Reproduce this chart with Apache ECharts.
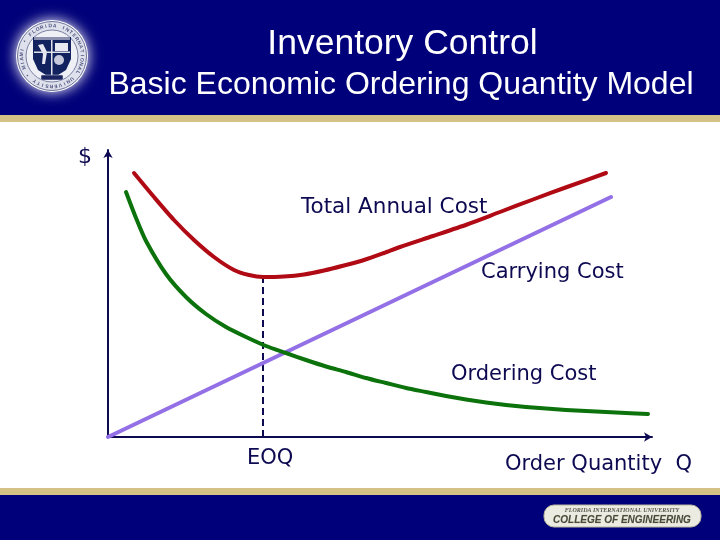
<!DOCTYPE html>
<html>
<head>
<meta charset="utf-8">
<style>html,body{margin:0;padding:0;background:#fff}#c{width:720px;height:540px}</style>
<script src="https://cdn.jsdelivr.net/npm/echarts@6/dist/echarts.min.js"></script>
</head>
<body>
<div id="c"></div>
<script>
// Values: [quantity, dollars], in arbitrary chart units
var totalCost = [[26,264],[46,240],[66,217],[86,197],[106,180],[126,167],[141,162],[155,160],[176,160.5],[196,162.5],[216,166.5],[236,171.5],[256,177],[276,184],[292,190],[325,201],[359,212.5],[392,225],[425,237.5],[459,250],[498,264]];
var orderingCost = [[18,245],[28,219],[38,196],[58,163],[78,140],[98,123],[118,110],[138,100],[158,91],[178,84],[198,77],[218,70.5],[238,65],[258,59],[278,54],[298,49],[318,45],[338,41],[358,37.5],[378,34.5],[398,32],[418,30],[438,28.5],[458,27],[478,26],[498,25],[518,24],[540,23]];
var carryingCost = [[0,0],[503,240]];
var eoqLine = [[155,0],[155,160]];
var chartLabels = ['$','Total Annual Cost','Carrying Cost','Ordering Cost','EOQ','Order Quantity  Q'];
var titleLines = ['Inventory Control','Basic Economic Ordering Quantity Model'];
var sealText = 'FLORIDA INTERNATIONAL UNIVERSITY * MIAMI * ';
var badgeLines = ['FLORIDA INTERNATIONAL UNIVERSITY','COLLEGE OF ENGINEERING'];

var NAVY='#00007a', GOLD='#d4c185', INK='#0e0a52';
var labelFont='DejaVu Sans';
function lbl(t,x,y,size){return {type:'text',x:x,y:y,z:20,style:{text:t,fill:INK,font:size+'px "'+labelFont+'"',textAlign:'left',textVerticalAlign:'middle'}};}
function rect(x,y,w,h,f){return {type:'rect',z:1,shape:{x:x,y:y,width:w,height:h},style:{fill:f}};}

var seal=[
 {type:'circle',z:3,shape:{cx:52,cy:58,r:36},style:{fill:'#fff',shadowBlur:14,shadowColor:'#fff'}},
 {type:'circle',z:4,shape:{cx:52,cy:58,r:34.5},style:{fill:'#dfe2ec',stroke:'#6a7096',lineWidth:1}},
 {type:'circle',z:4,shape:{cx:52,cy:58,r:26},style:{fill:'#eef0f6',stroke:'#7a80a4',lineWidth:1}},
 {type:'polygon',z:5,shape:{points:[[33,39],[71,39],[71,61],[66,72],[52,81],[38,72],[33,61]]},style:{fill:'#12225e'}},
 {type:'rect',z:6,shape:{x:34,y:39,width:36,height:3},style:{fill:'#8a90ae'}},
 {type:'polygon',z:6,shape:{points:[[38,47],[43,46],[47,54],[45,66],[42,66],[43,56]]},style:{fill:'#e8e8f0'}},
 {type:'rect',z:6,shape:{x:55,y:45,width:13,height:8},style:{fill:'#e8e8f0'}},
 {type:'circle',z:6,shape:{cx:59,cy:62,r:5},style:{fill:'#c6cadb'}},
 {type:'rect',z:6,shape:{x:51,y:42,width:1.5,height:36},style:{fill:'#dfe1ea'}},
 {type:'rect',z:6,shape:{x:34,y:53.5,width:36,height:1.5},style:{fill:'#dfe1ea'}},
 {type:'rect',z:7,shape:{x:41,y:77,width:22,height:5,r:1},style:{fill:'#1a2460',stroke:'#dfe1ea',lineWidth:.5}}
];
// seal lettering around the ring
for(var i=0;i<sealText.length;i++){
  var a=i/sealText.length*Math.PI*2-Math.PI*0.75;
  seal.push({type:'text',z:6,x:52+30.2*Math.cos(a),y:58+30.2*Math.sin(a),rotation:-(a+Math.PI/2),
    style:{text:sealText[i],fill:'#4e5480',font:'bold 5px "Liberation Sans"',textAlign:'center',textVerticalAlign:'middle'}});
}

var g=[
 rect(0,0,720,115,NAVY), rect(0,115,720,7,GOLD),
 rect(0,488,720,7,GOLD), rect(0,495,720,45,NAVY),
 {type:'text',z:5,x:402.5,y:44,style:{text:titleLines[0],fill:'#fff',font:'35.5px "Liberation Sans"',textAlign:'center',textVerticalAlign:'middle'}},
 {type:'text',z:5,x:401,y:85,style:{text:titleLines[1],fill:'#fff',font:'32px "Liberation Sans"',textAlign:'center',textVerticalAlign:'middle'}},
 {type:'group',x:0,y:-2,children:seal},
 // badge
 {type:'rect',z:3,shape:{x:544,y:505,width:157,height:22,r:10},style:{fill:'#ecebe2',stroke:'#b9b59c',lineWidth:1}},
 {type:'text',z:5,x:622,y:510,style:{text:badgeLines[0],fill:'#55554a',font:'italic bold 6px "Liberation Serif"',textAlign:'center',textVerticalAlign:'middle'}},
 {type:'text',z:5,x:622,y:520,style:{text:badgeLines[1],fill:'#4a4a3c',stroke:'#c8c8b0',lineWidth:.4,font:'italic bold 10px "Liberation Sans"',textAlign:'center',textVerticalAlign:'middle'}},
 lbl(chartLabels[0],78,157,22),
 lbl(chartLabels[1],301,207,21.5),
 lbl(chartLabels[2],481,273,21),
 lbl(chartLabels[3],451,375,21),
 lbl(chartLabels[4],247,459,21),
 lbl(chartLabels[5],505,465,21)
];

var chart=echarts.init(document.getElementById('c'),null,{renderer:'canvas'});
function axis(){return {type:'value',min:0,splitLine:{show:false},axisTick:{show:false},axisLabel:{show:false},
  axisLine:{show:true,onZero:false,symbol:['none','arrow'],symbolSize:[7,8],lineStyle:{color:INK,width:2}}};}
function line(name,data,color,w,smooth){return {name:name,type:'line',data:data,showSymbol:false,symbol:'none',smooth:smooth,z:5,clip:false,silent:true,
  lineStyle:{color:color,width:w,cap:'round',join:'round'}};}
var xA=axis();xA.max=544;var yA=axis();yA.max=287;
var dashed=line('EOQ',eoqLine,INK,2,false);dashed.lineStyle.type=[7,4];dashed.lineStyle.cap='butt';dashed.z=4;
chart.setOption({
 animation:false,backgroundColor:'#fff',
 grid:{left:108,top:150,width:544,height:287,show:false,containLabel:false},
 xAxis:xA,yAxis:yA,graphic:g,
 series:[dashed,
  line('Carrying Cost',carryingCost,'#9370e6',4,false),
  line('Ordering Cost',orderingCost,'#0c720c',4,0.25),
  line('Total Annual Cost',totalCost,'#b00a14',4,0.25)]
});
</script>
</body>
</html>
